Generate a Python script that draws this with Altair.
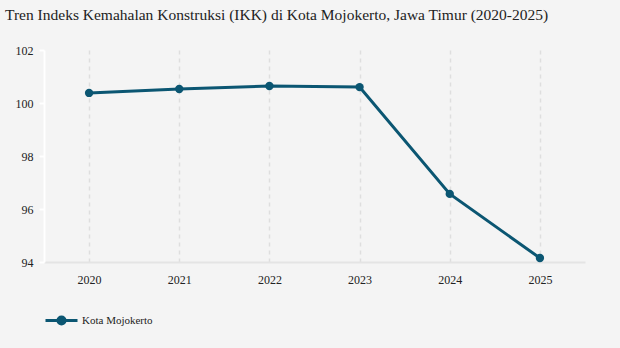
import altair as alt
import pandas as pd

years = ["2020", "2021", "2022", "2023", "2024", "2025"]
ikk = [100.38, 100.53, 100.64, 100.60, 96.57, 94.15]
series = ["Kota Mojokerto"] * len(years)

df = pd.DataFrame({"Tahun": years, "IKK": ikk, "Wilayah": series})

color = "#0b5672"
serif = "Liberation Serif"
sym = "M -1 0 L -0.22 0 M 0.22 0 L 1 0 M 0.22 0 A 0.22 0.22 0 1 1 -0.22 0 A 0.22 0.22 0 1 1 0.22 0 Z"

base = alt.Chart(df).encode(
    x=alt.X("Tahun:O", scale=alt.Scale(type="point", padding=0.5),
            axis=alt.Axis(title=None, labelAngle=0, grid=True, gridDash=[4, 4],
                          gridColor="#dedede", gridWidth=1.5, ticks=False,
                          domainColor="#e4e4e4", domainWidth=2, labelPadding=12,
                          labelFont=serif, labelFontSize=12,
                          labelColor="#222222")),
    y=alt.Y("IKK:Q", scale=alt.Scale(domain=[94, 102], zero=False, nice=False),
            axis=alt.Axis(title=None, values=[94, 96, 98, 100, 102], grid=False,
                          domainColor="#ffffff", domainWidth=2, tickColor="#ffffff",
                          tickWidth=2, tickSize=5, labelPadding=6,
                          labelFont=serif, labelFontSize=12,
                          labelColor="#222222")),
    color=alt.Color("Wilayah:N", scale=alt.Scale(range=[color]),
                    legend=alt.Legend(title=None, orient="none", legendX=0, legendY=253,
                                      symbolType=sym, symbolSize=1024,
                                      symbolStrokeWidth=3, symbolFillColor=color,
                                      symbolStrokeColor=color,
                                      labelFont=serif, labelFontSize=11,
                                      labelColor="#222222", labelOffset=3)),
)

line = base.mark_line(strokeWidth=3)
pts = base.mark_point(filled=True, size=70, opacity=1)

chart = (line + pts).properties(
    width=541, height=212,
    background="#f4f4f4",
    padding={"left": 44, "top": 50, "right": 35, "bottom": 86},
    autosize=alt.AutoSizeParams(type="none"),
    title=alt.TitleParams(
        "Tren Indeks Kemahalan Konstruksi (IKK) di Kota Mojokerto, Jawa Timur (2020-2025)",
        anchor="start", frame="group", dx=-39, offset=21,
        font=serif, fontSize=15.5, fontWeight="normal", color="#222222"),
).configure_view(strokeWidth=0).configure_axis(
    labelFont=serif
).configure_legend(labelFont=serif)

chart.save("out.html", embed_options={"renderer": "svg", "actions": False})
